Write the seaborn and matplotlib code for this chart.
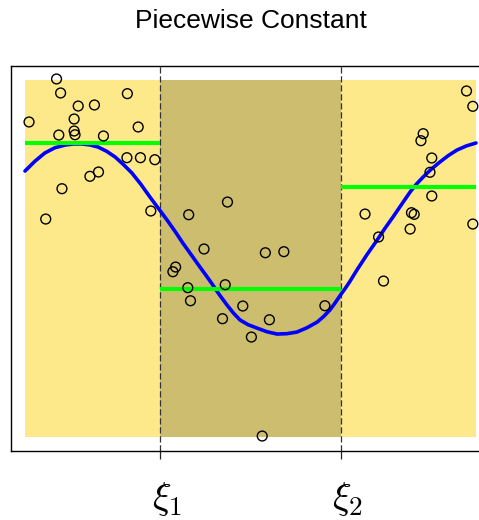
import matplotlib
matplotlib.use("Agg")
import matplotlib.pyplot as plt
import matplotlib.transforms as mtransforms
import pandas as pd
import seaborn as sns

# observed points (x in [0, 1], y response)
x_obs = [0.070, 0.079, 0.227, 0.118, 0.154, 0.009, 0.109, 0.251, 0.109, 0.111,
         0.075, 0.174, 0.226, 0.256, 0.288, 0.163, 0.144, 0.082, 0.046, 0.279,
         0.449, 0.363, 0.397, 0.533, 0.574, 0.334, 0.328, 0.361, 0.444, 0.367,
         0.483, 0.665, 0.438, 0.542, 0.502, 0.526,
         0.979, 0.993, 0.883, 0.878, 0.902, 0.898, 0.902, 0.754, 0.857, 0.863,
         0.993, 0.854, 0.784, 0.795]
y_obs = [1.667, 1.521, 1.514, 1.385, 1.396, 1.219, 1.250, 1.167, 1.125, 1.086,
         1.083, 1.073, 0.847, 0.847, 0.826, 0.698, 0.653, 0.524, 0.208, 0.292,
         0.385, 0.253, -0.104, -0.143, -0.132, -0.292, -0.341, -0.507, -0.476, -0.643,
         -0.698, -0.695, -0.830, -0.841, -1.021, -2.052,
         1.542, 1.382, 1.097, 1.024, 0.844, 0.695, 0.448, 0.260, 0.274, 0.257,
         0.156, 0.104, 0.021, -0.438]

# true function
x_true = [0.000, 0.022, 0.044, 0.066, 0.089, 0.108, 0.126, 0.144, 0.162, 0.181,
          0.200, 0.218, 0.237, 0.257, 0.277, 0.296, 0.315, 0.333, 0.350, 0.369,
          0.388, 0.402, 0.415, 0.431, 0.448, 0.462, 0.477, 0.495, 0.514, 0.536,
          0.559, 0.581, 0.603, 0.625, 0.648, 0.662, 0.676, 0.687, 0.698, 0.710,
          0.721, 0.736, 0.758, 0.781, 0.798, 0.816, 0.835, 0.854, 0.868, 0.883,
          0.901, 0.920, 0.939, 0.958, 0.979, 1.000]
y_true = [0.708, 0.810, 0.896, 0.950, 0.979, 0.990, 0.990, 0.980, 0.958, 0.914,
          0.854, 0.777, 0.688, 0.570, 0.438, 0.318, 0.198, 0.078, -0.042, -0.167,
          -0.292, -0.382, -0.469, -0.580, -0.688, -0.770, -0.844, -0.893, -0.927, -0.965,
          -0.990, -0.986, -0.969, -0.925, -0.865, -0.808, -0.740, -0.670, -0.594, -0.515,
          -0.438, -0.323, -0.165, -0.010, 0.110, 0.229, 0.360, 0.490, 0.572, 0.646,
          0.728, 0.802, 0.870, 0.927, 0.970, 1.000]

# piecewise constant fit (green segments)
levels = [1.000, -0.521, 0.542]

knots = [0.3, 0.7]
knot_labels = [r"$\xi_1$", r"$\xi_2$"]
region_edges = [0.0, 0.3, 0.7, 1.0]
region_colors = ["#FEE98A", "#CDBD6F", "#FEE98A"]

pts = pd.DataFrame({"x": x_obs, "y": y_obs})
curve = pd.DataFrame({"x": x_true, "y": y_true})

sns.set_style("white")
plt.rcParams["font.family"] = ["Liberation Sans", "DejaVu Sans"]
plt.rcParams["mathtext.fontset"] = "cm"

fig = plt.figure(figsize=(4.79, 5.20), dpi=100)
ax = fig.add_axes([11 / 479, 69 / 520, 478.5 / 479, 385 / 520])

# shaded regions
for i, c in enumerate(region_colors):
    ax.fill_between([region_edges[i], region_edges[i + 1]], -2.0625, 1.656,
                    color=c, lw=0, zorder=0)

for k in knots:
    ax.axvline(k, color="#333333", lw=0.9, ls=(0, (5, 2.2)), zorder=1)

sns.lineplot(data=curve, x="x", y="y", sort=False, estimator=None,
             color="#0000FF", lw=2.6, ax=ax, zorder=2)
ax.hlines(levels, region_edges[:-1], region_edges[1:], color="#00FF00", lw=3, zorder=3)
sns.scatterplot(data=pts, x="x", y="y", marker="o", s=50, facecolors="none",
                edgecolors="black", linewidths=1.0, ax=ax, zorder=4)

ax.set_xlim(-0.031, 1.03)
ax.set_ylim(-2.208, 1.802)
ax.set_yticks([])
ax.set_xticks(knots, knot_labels)
ax.tick_params(axis="x", length=6, width=0.9, direction="out", pad=15,
               labelsize=28, color="#222222", labelcolor="black", bottom=True)
for lab in ax.get_xticklabels():
    lab.set_transform(lab.get_transform()
                      + mtransforms.ScaledTranslation(0.07, 0, fig.dpi_scale_trans))
for side in ["left", "top", "bottom"]:
    ax.spines[side].set_color("black")
    ax.spines[side].set_linewidth(1.0)
ax.spines["right"].set_visible(False)
ax.set_xlabel("")
ax.set_ylabel("")

fig.text(251 / 479, 1 - 28 / 520, "Piecewise Constant", ha="center", va="baseline",
         fontsize=19, color="black")

fig.savefig("out.png", dpi=100)
